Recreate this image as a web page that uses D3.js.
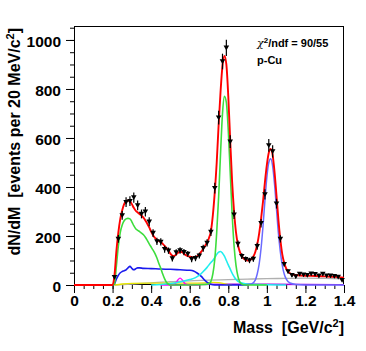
<!DOCTYPE html>
<html><head><meta charset="utf-8">
<script src="https://cdn.jsdelivr.net/npm/d3@7"></script>
<style>html,body{margin:0;padding:0;background:#fff;}svg{display:block;}</style>
</head><body>
<svg id="chart" width="366" height="351"></svg>
<script>
// ---- data ----
const binMass = [0.21,0.23,0.25,0.27,0.29,0.31,0.33,0.35,0.37,0.39,
  0.41,0.43,0.45,0.47,0.49,0.51,0.53,0.55,0.57,0.59,
  0.61,0.63,0.65,0.67,0.69,0.71,0.73,0.75,0.77,0.79,
  0.81,0.83,0.85,0.87,0.89,0.91,0.93,0.95,0.97,0.99,
  1.01,1.03,1.05,1.07,1.09,1.11,1.13,1.15,1.17,1.19,
  1.21,1.23,1.25,1.27,1.29,1.31,1.33,1.35,1.37,1.39];
const binCounts = [32,188,284,338,342,357,325,290,299,258,
  212,178,176,146,140,108,133,141,134,127,
  105,109,120,150,172,216,395,683,912,968,
  585,287,168,118,105,100,106,158,252,370,
  570,545,332,188,85,55,40,35,45,42,
  40,46,44,38,45,38,38,36,33,20];
const binErrors = [8,16,18,20,20,21,20,18,19,18,
  16,15,15,14,13,12,13,13,13,12,
  12,12,12,14,15,16,22,28,32,33,
  26,18,14,12,11,11,11,14,17,21,
  26,25,20,15,10,8,7,7,7,7,
  7,7,7,7,7,7,7,6,6,5];

const fitTotal = [[0,0],[0.20,0],[0.21,40],[0.22,140],[0.23,215],[0.24,270],[0.25,305],[0.26,330],[0.27,342],[0.28,345],
  [0.29,342],[0.30,330],[0.31,315],[0.32,303],[0.33,296],[0.34,290],[0.35,283],[0.36,275],[0.37,263],[0.38,250],
  [0.39,235],[0.40,218],[0.41,203],[0.42,192],[0.43,185],[0.44,180],[0.45,175],[0.46,168],[0.47,160],[0.48,150],
  [0.49,140],[0.50,128],[0.51,120],[0.52,119],[0.53,125],[0.54,132],[0.55,136],[0.56,134],[0.57,128],[0.58,122],
  [0.59,118],[0.60,116],[0.61,114],[0.62,113],[0.63,114],[0.64,118],[0.65,126],[0.66,136],[0.67,148],[0.68,160],
  [0.69,175],[0.70,192],[0.71,220],[0.72,285],[0.73,380],[0.74,500],[0.75,655],[0.76,790],[0.77,895],[0.78,935],
  [0.79,900],[0.80,770],[0.81,590],[0.82,420],[0.83,300],[0.84,215],[0.85,165],[0.86,135],[0.87,118],[0.88,108],
  [0.89,103],[0.90,100],[0.91,101],[0.92,106],[0.93,116],[0.94,135],[0.95,165],[0.96,210],[0.97,270],[0.98,340],
  [0.99,420],[1.00,490],[1.01,540],[1.02,555],[1.03,530],[1.04,460],[1.05,365],[1.06,265],[1.07,185],[1.08,125],
  [1.09,90],[1.10,68],[1.11,55],[1.12,48],[1.13,44],[1.14,42],[1.15,41],[1.20,38],[1.25,37],[1.30,35],[1.35,33],[1.40,30]];
const etaDalitzOmega = [[0.20,0],[0.21,5],[0.22,80],[0.23,160],[0.24,215],[0.25,245],[0.26,262],[0.27,270],[0.28,272],
  [0.29,270],[0.30,258],[0.31,242],[0.32,230],[0.33,223],[0.34,218],[0.35,212],[0.36,205],[0.37,195],[0.38,182],
  [0.39,168],[0.40,155],[0.41,142],[0.42,128],[0.43,110],[0.44,88],[0.45,68],[0.46,45],[0.47,25],[0.48,10],
  [0.49,3],[0.50,0],[0.60,0],[0.68,2],[0.70,6],[0.71,15],[0.72,45],[0.73,105],[0.74,215],[0.75,360],[0.76,540],
  [0.77,700],[0.78,770],[0.79,745],[0.80,630],[0.81,460],[0.82,290],[0.83,160],[0.84,80],[0.85,35],[0.86,12],
  [0.87,4],[0.88,1],[0.90,0],[1.00,0]];
const broadBlue = [[0.20,0],[0.21,5],[0.22,25],[0.23,40],[0.24,50],[0.25,55],[0.26,58],[0.27,62],[0.28,70],[0.29,76],
  [0.30,68],[0.31,62],[0.32,66],[0.33,70],[0.34,70],[0.36,68],[0.40,67],[0.45,65],[0.50,64],[0.55,62],[0.60,60],
  [0.62,57],[0.64,48],[0.66,35],[0.68,18],[0.70,6],[0.72,1],[0.74,0],[0.90,0]];
const rhoCyan = [[0.40,0],[0.45,2],[0.50,6],[0.55,12],[0.60,22],[0.63,30],[0.65,40],[0.67,55],[0.69,72],[0.71,92],
  [0.72,100],[0.73,112],[0.74,125],[0.75,134],[0.76,137],[0.77,130],[0.78,118],[0.79,100],[0.80,82],[0.81,65],
  [0.82,48],[0.83,34],[0.84,22],[0.85,15],[0.87,8],[0.90,4],[0.95,2],[1.00,1],[1.10,0]];
const phiPeak = [[0.88,0],[0.92,4],[0.94,20],[0.95,45],[0.96,85],[0.97,150],[0.98,240],[0.99,345],[1.00,440],
  [1.01,500],[1.02,515],[1.03,485],[1.04,410],[1.05,310],[1.06,210],[1.07,135],[1.08,80],[1.09,45],[1.10,25],
  [1.12,8],[1.15,2],[1.20,0],[1.40,0]];
const etaMuMu = [[0.45,0],[0.50,0],[0.52,3],[0.53,10],[0.54,22],[0.55,28],[0.56,22],[0.57,10],[0.58,3],[0.60,0],[0.65,0]];
const violetLine = [[0.50,0],[0.60,2],[0.80,3],[1.00,3],[1.20,2],[1.40,1]];
const yellowLine = [[0.21,0],[0.25,4],[0.30,7],[0.40,8],[0.50,8],[0.60,8],[0.68,9],[0.72,11],[0.75,10],[0.78,5],[0.80,1],[0.82,0]];
const grayLine = [[0.21,0],[0.30,4],[0.40,9],[0.50,14],[0.60,17],[0.70,20],[0.80,22],[0.90,24],[1.00,26],[1.10,27],
  [1.20,28],[1.30,27],[1.40,25]];

const yMajorTicks = [0,200,400,600,800,1000];
const xMajorTicks = [0,0.2,0.4,0.6,0.8,1.0,1.2,1.4];
const xTickLabels = ["0","0.2","0.4","0.6","0.8","1","1.2","1.4"];

// ---- drawing ----
const svg = d3.select("#chart");
const L = 74, R = 344, T = 26, B = 285;
const x = d3.scaleLinear().domain([0, 1.4]).range([L, R]);
const y = d3.scaleLinear().domain([0, 1057]).range([B, T]);
const font = "'Liberation Sans', Arial, Helvetica, sans-serif";

svg.append("rect").attr("width",366).attr("height",351).attr("fill","#fff");

svg.append("defs").append("clipPath").attr("id","clip")
  .append("rect").attr("x",L).attr("y",T).attr("width",R-L).attr("height",B-T+2);

// frame (drawn first so the fit line along zero stays visible)
svg.append("rect").attr("x",L+0.5).attr("y",T+0.5).attr("width",R-L-1).attr("height",B-T-1)
  .attr("fill","none").attr("stroke","#000").attr("stroke-width",1);

// axes
const yMinor = d3.range(0, 1051, 50);
const xMinor = d3.range(0, 141, 5).map(v => v/100);
const gy = svg.append("g").attr("transform",`translate(${L},0)`);
gy.call(d3.axisLeft(y).tickValues(yMinor).tickSize(4).tickFormat(""));
gy.call(g => g.select(".domain").remove());
const gy2 = svg.append("g").attr("transform",`translate(${L},0)`);
gy2.call(d3.axisLeft(y).tickValues(yMajorTicks).tickSize(8).tickPadding(5).tickFormat(d3.format("d")));
gy2.call(g => g.select(".domain").remove());
gy2.selectAll("text").attr("font-family",font).attr("font-weight","bold").attr("font-size","15.5px")
  .attr("fill","#000").attr("dy",null).attr("y",6.5);

const gx = svg.append("g").attr("transform",`translate(0,${B})`);
gx.call(d3.axisBottom(x).tickValues(xMinor).tickSize(4).tickFormat(""));
gx.call(g => g.select(".domain").remove());
const gx2 = svg.append("g").attr("transform",`translate(0,${B})`);
gx2.call(d3.axisBottom(x).tickValues(xMajorTicks).tickSize(8).tickFormat((d,i) => xTickLabels[i]));
gx2.call(g => g.select(".domain").remove());
gx2.selectAll("text").attr("font-family",font).attr("font-weight","bold").attr("font-size","15.5px")
  .attr("fill","#000").attr("dy",null).attr("y",20.5);
svg.selectAll(".tick line").attr("stroke","#000").attr("stroke-width",1);

// curves
const line = d3.line().x(d => x(d[0])).y(d => y(d[1])).curve(d3.curveMonotoneX);
const curves = svg.append("g").attr("clip-path","url(#clip)");
const comps = [
  [grayLine, "#b0b0b0", 1.3],
  [violetLine, "#aa00dd", 1.3],
  [yellowLine, "#e6e600", 1.3],
  [etaMuMu, "#ff00ff", 1.4],
  [broadBlue, "#1a1aee", 1.6],
  [rhoCyan, "#22eeee", 1.6],
  [phiPeak, "#6a6aff", 1.5],
  [etaDalitzOmega, "#3ddd3d", 1.6],
  [fitTotal, "#ff0000", 1.9]
];
comps.forEach(([data, color, w]) => {
  curves.append("path").datum(data).attr("d", line).attr("fill","none")
    .attr("stroke", color).attr("stroke-width", w).attr("stroke-linejoin","round");
});

// data points
const pts = svg.append("g");
binMass.forEach((m, i) => {
  const cx = x(m), cy = y(binCounts[i]);
  const e = binErrors[i];
  pts.append("line").attr("x1",cx).attr("x2",cx).attr("y1",y(binCounts[i]+e)).attr("y2",y(binCounts[i]-e))
    .attr("stroke","#000").attr("stroke-width",1.2);
  pts.append("path").attr("d",`M${cx-2.8},${cy-2.2}L${cx+2.8},${cy-2.2}L${cx},${cy+2.6}Z`).attr("fill","#000");
});

// titles
svg.append("text").attr("x",R).attr("y",333).attr("text-anchor","end")
  .attr("font-family",font).attr("font-weight","bold").attr("font-size","16px")
  .html('Mass&#160;&#160;[GeV/c<tspan dy="-6" font-size="11px">2</tspan><tspan dy="6">]</tspan>');
svg.append("text").attr("transform","translate(20,28) rotate(-90)").attr("text-anchor","end")
  .attr("font-family",font).attr("font-weight","bold").attr("font-size","16px")
  .html('dN/dM&#160;&#160;[events per 20 MeV/c<tspan dy="-6" font-size="11px">2</tspan><tspan dy="6">]</tspan>');

svg.append("text").attr("x",257).attr("y",47).attr("font-family",font).attr("font-weight","bold").attr("font-size","11px")
  .html('<tspan font-weight="normal" font-family="DejaVu Serif, serif" font-style="italic">χ</tspan><tspan dy="-4" font-size="8px">2</tspan><tspan dy="4">/ndf = 90/55</tspan>');
svg.append("text").attr("x",257).attr("y",64).attr("font-family",font).attr("font-weight","bold").attr("font-size","11px")
  .text("p-Cu");
</script>
</body></html>
